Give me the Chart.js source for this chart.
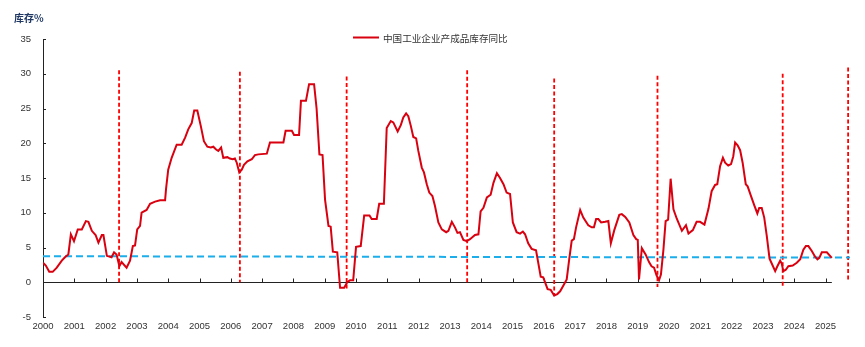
<!DOCTYPE html>
<html>
<head>
<meta charset="utf-8">
<script src="https://cdn.jsdelivr.net/npm/chart.js@4/dist/chart.umd.min.js"></script>
<style>
html,body{margin:0;padding:0;background:#fff;}
#wrap{width:865px;height:347px;position:relative;}
</style>
</head>
<body>
<div id="wrap"><canvas id="c" width="865" height="347"></canvas></div>
<script>
// ---------- data ----------
const axisTitle = '库存%';
const legendLabel = '中国工业企业产成品库存同比';
const yearTicks = [2000,2001,2002,2003,2004,2005,2006,2007,2008,2009,2010,2011,2012,2013,2014,2015,2016,2017,2018,2019,2020,2021,2022,2023,2024,2025];
const yTicks = [-5,0,5,10,15,20,25,30,35];

// date (decimal year) of each reading
const dates = [
2000.00,2000.09,2000.20,2000.31,2000.44,2000.60,2000.70,2000.81,2000.89,2000.99,
2001.11,2001.24,2001.37,2001.45,2001.56,2001.68,2001.77,2001.88,2001.93,
2002.04,2002.19,2002.27,2002.35,2002.44,2002.51,2002.67,2002.78,2002.87,2002.94,
2003.01,2003.10,2003.15,2003.31,2003.42,2003.58,2003.74,2003.90,2003.93,
2004.00,2004.11,2004.27,2004.43,2004.54,2004.64,2004.75,2004.83,2004.93,
2005.04,2005.14,2005.25,2005.36,2005.44,2005.53,2005.60,2005.69,2005.76,2005.89,2005.97,
2006.06,2006.13,2006.19,2006.27,2006.35,2006.42,2006.53,2006.67,2006.77,2006.88,
2007.15,2007.25,2007.68,2007.75,2007.95,
2008.02,2008.18,2008.24,2008.40,2008.50,2008.66,2008.74,2008.83,2008.93,
2009.01,2009.12,2009.19,2009.26,2009.40,2009.49,2009.62,2009.72,2009.81,2009.91,
2010.00,2010.15,2010.26,2010.43,2010.50,2010.66,2010.74,2010.89,2010.98,
2011.11,2011.19,2011.33,2011.43,2011.51,2011.60,2011.67,2011.75,2011.83,2011.92,2011.99,
2012.10,2012.17,2012.26,2012.34,2012.44,2012.52,2012.63,2012.74,2012.88,2012.95,
2013.06,2013.16,2013.24,2013.32,2013.43,2013.54,2013.64,2013.80,2013.91,2013.98,
2014.07,2014.18,2014.30,2014.39,2014.50,2014.60,2014.71,2014.81,2014.92,
2015.01,2015.13,2015.24,2015.33,2015.40,2015.50,2015.61,2015.75,2015.90,2015.98,
2016.12,2016.22,2016.33,2016.43,2016.52,2016.62,2016.73,2016.81,2016.89,2016.96,
2017.03,2017.16,2017.26,2017.42,2017.53,2017.60,2017.67,2017.74,2017.83,2017.96,
2018.06,2018.14,2018.25,2018.41,2018.49,2018.60,2018.73,2018.86,2018.95,
2019.00,2019.04,2019.13,2019.25,2019.36,2019.44,2019.52,2019.60,2019.68,2019.74,2019.82,2019.89,2019.97,
2020.05,2020.14,2020.25,2020.41,2020.54,2020.62,2020.76,2020.88,2020.99,
2021.13,2021.26,2021.36,2021.47,2021.54,2021.63,2021.72,2021.79,2021.89,2021.98,
2022.05,2022.11,2022.19,2022.27,2022.35,2022.45,2022.51,2022.61,2022.72,2022.82,2022.88,2022.96,
2023.04,2023.12,2023.21,2023.28,2023.39,2023.46,2023.55,2023.60,2023.65,2023.73,2023.81,2023.95,
2024.08,2024.19,2024.29,2024.37,2024.45,2024.56,2024.66,2024.74,2024.80,2024.88,
2025.04,2025.12,2025.20
];
// 中国工业企业产成品库存同比 (%)
const inventoryYoY = [
2.8,2.4,1.5,1.5,2.1,3.1,3.6,4.0,6.9,5.9,
7.6,7.6,8.8,8.7,7.4,6.8,5.7,6.8,6.8,
3.8,3.6,4.3,4.0,2.3,2.9,2.1,3.1,5.2,5.3,
7.6,8.1,10.0,10.4,11.3,11.6,11.8,11.8,13.4,
16.2,17.9,19.8,19.8,20.8,22.0,22.9,24.7,24.7,
22.5,20.3,19.5,19.4,19.5,19.1,18.9,19.4,17.9,18.0,17.8,
17.7,17.8,17.2,15.8,16.2,16.9,17.4,17.7,18.3,18.4,
18.5,20.1,20.1,21.8,21.8,
21.2,21.2,26.1,26.1,28.5,28.5,25.0,18.4,18.3,
11.9,8.1,8.0,4.4,4.3,-0.8,-0.8,0.0,0.3,0.3,
5.1,5.2,9.6,9.6,9.1,9.1,11.3,11.3,22.2,
23.2,23.0,21.7,22.6,23.7,24.3,23.9,22.5,20.9,20.7,18.9,
16.5,15.8,14.1,12.9,12.4,11.0,8.6,7.6,7.2,7.4,
8.7,7.9,7.1,7.2,6.1,5.9,6.2,6.8,6.9,10.2,
10.7,12.2,12.6,14.3,15.7,15.0,14.1,12.9,12.7,
8.6,7.2,7.0,7.3,6.9,5.6,4.8,4.6,0.8,0.7,
-1.0,-1.1,-1.9,-1.7,-1.3,-0.5,0.4,3.3,6.0,6.2,
7.9,10.4,9.3,8.2,7.9,7.9,9.1,9.1,8.6,8.7,
8.8,5.6,7.5,9.7,9.8,9.4,8.6,6.8,6.2,
6.1,0.4,4.9,4.0,2.9,2.3,2.1,1.0,0.3,1.1,4.7,8.8,9.0,
14.9,10.5,9.1,7.4,8.2,7.0,7.5,8.7,8.7,
8.3,10.6,13.1,14.0,14.1,16.7,17.9,17.2,16.8,17.0,
18.1,20.1,19.7,19.0,17.2,14.1,13.8,12.5,11.1,9.9,10.7,10.7,
9.3,6.7,3.4,2.7,1.6,2.3,3.1,2.7,1.6,1.8,2.3,2.4,
2.8,3.3,4.7,5.2,5.2,4.5,3.7,3.3,3.5,4.3,
4.3,3.9,3.5
];

// inventory-cycle turning points (red dashed verticals)
const cycleDates  = [2002.43, 2006.29, 2009.70, 2013.55, 2016.33, 2019.63, 2023.63, 2025.72];
const cycleTop    = [30.5, 30.3, 29.6, 30.5, 29.3, 29.7, 30.0, 30.9];
const cycleBottom = [0.0, 0.0, -1.2, 0.0, -2.0, -0.7, -0.6, 0.4];

// average level (blue dashed)
const meanDates  = [2000, 2025.78];
const meanValues = [3.75, 3.55];

// ---------- chart ----------
const RED = '#D9000F';
const NUM_FONT = 'Liberation Sans, Arial, sans-serif';
const CJK_FONT = '"Noto Sans CJK SC", "Noto Sans", sans-serif';

const datasets = [{
  label: legendLabel,
  data: dates.map((d, i) => ({x: d, y: inventoryYoY[i]})),
  borderColor: RED, borderWidth: 2, pointRadius: 0, tension: 0, fill: false
}, {
  label: 'mean',
  data: meanDates.map((d, i) => ({x: d, y: meanValues[i]})),
  borderColor: '#1BAEEA', borderWidth: 2, borderDash: [7, 4], pointRadius: 0, fill: false
}];
cycleDates.forEach((d, i) => {
  datasets.push({
    label: 'cycle' + i,
    data: [{x: d, y: cycleTop[i]}, {x: d, y: cycleBottom[i]}],
    borderColor: '#FF0000', borderWidth: 1.8, borderDash: [4, 2.5], pointRadius: 0, fill: false
  });
});

const decor = {
  id: 'decor',
  beforeDatasetsDraw(chart) {
    const {ctx, scales: {x, y}} = chart;
    const y0 = Math.round(y.getPixelForValue(0)) + 0.5;
    ctx.save();
    ctx.strokeStyle = '#222';
    ctx.lineWidth = 1.2;
    ctx.beginPath();
    ctx.moveTo(x.getPixelForValue(dates[0]), y0);
    ctx.lineTo(x.getPixelForValue(dates[dates.length - 1]), y0);
    ctx.stroke();
    ctx.lineWidth = 1;
    ctx.beginPath();
    yearTicks.forEach(t => {
      if (t === yearTicks[0]) return;
      const px = Math.round(x.getPixelForValue(t)) + 0.5;
      ctx.moveTo(px, y0); ctx.lineTo(px, y0 - 4);
    });
    const left = x.getPixelForValue(yearTicks[0]);
    yTicks.forEach(v => {
      const py = Math.round(y.getPixelForValue(v)) + 0.5;
      ctx.moveTo(left, py); ctx.lineTo(left + 3, py);
    });
    ctx.stroke();
    ctx.restore();
  },
  afterDraw(chart) {
    const {ctx} = chart;
    ctx.save();
    // axis unit title
    ctx.fillStyle = '#1F3864';
    ctx.font = 'bold 10px ' + CJK_FONT;
    ctx.textBaseline = 'middle';
    ctx.textAlign = 'left';
    ctx.fillText(axisTitle, 14, 18.5);
    // legend
    ctx.strokeStyle = RED;
    ctx.lineWidth = 2;
    ctx.beginPath();
    ctx.moveTo(353, 37.5); ctx.lineTo(379, 37.5);
    ctx.stroke();
    ctx.fillStyle = '#333';
    ctx.font = '9.6px ' + CJK_FONT;
    ctx.fillText(legendLabel, 383, 38);
    ctx.restore();
  }
};

new Chart(document.getElementById('c'), {
  type: 'line',
  data: {datasets},
  options: {
    responsive: false,
    animation: false,
    devicePixelRatio: 1,
    layout: {padding: {top: 39, right: 15, left: 0, bottom: 0}},
    plugins: {legend: {display: false}, tooltip: {enabled: false}},
    scales: {
      x: {
        type: 'linear', min: 2000, max: 2025.78,
        grid: {display: false, drawTicks: false},
        border: {display: false},
        afterBuildTicks: s => { s.ticks = yearTicks.map(v => ({value: v})); },
        afterFit: s => { s.height = 30; },
        ticks: {autoSkip: false, maxRotation: 0, padding: 4, color: '#333',
                font: {family: NUM_FONT, size: 9.5}, callback: v => String(v)}
      },
      y: {
        min: -5, max: 35,
        grid: {display: false, drawTicks: false},
        border: {display: true, color: '#222', width: 1},
        afterBuildTicks: s => { s.ticks = yTicks.map(v => ({value: v})); },
        afterFit: s => { s.width = 43; },
        ticks: {padding: 12, color: '#333', font: {family: NUM_FONT, size: 9.5},
                callback: v => String(v)}
      }
    }
  },
  plugins: [decor]
});
</script>
</body>
</html>
